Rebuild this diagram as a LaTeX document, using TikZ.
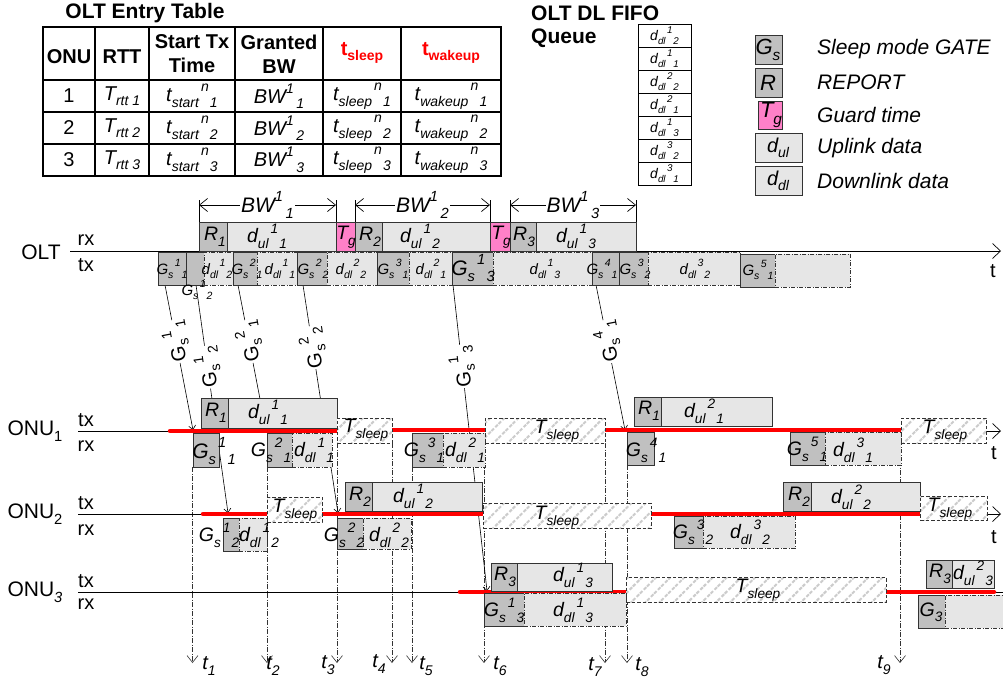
\documentclass[tikz,border=0pt]{standalone}
\usepackage{fontspec}
\setmainfont{Liberation Sans}
\usepackage{graphicx}
\usetikzlibrary{arrows.meta,patterns.meta}
\definecolor{tgpink}{RGB}{255,128,200}
\definecolor{gbfill}{RGB}{192,192,192}
\definecolor{dfill}{RGB}{230,230,230}
\newcommand\lo[1]{\raisebox{-0.28em}{\scalebox{0.7}{#1}}}
\newcommand\hi[1]{\raisebox{0.5em}{\scalebox{0.7}{#1}}}
\newcommand\gs[4]{#1\lo{#2}\hspace{0.1em}\hi{#3}\hspace{0.06em}\lo{#4}}
\newcommand\fT{\fontsize{21}{25}\selectfont}
\newcommand\fH{\fontsize{20}{24}\selectfont}
\newcommand\fR{\fontsize{19.5}{22}\selectfont}
\newcommand\fS{\fontsize{15}{18}\selectfont}
\newcommand\fQ{\fontsize{14}{16}\selectfont}
\newcommand\bx[6]{\pgfmathsetmacro\bxw{#5-#3}\pgfmathsetmacro\bxh{#6-#4}%
 \node[#1,anchor=north west,minimum width=\bxw pt,minimum height=\bxh pt,inner sep=0pt,outer sep=0pt] (#2) at (#3,#4) {};}
\begin{document}
\begin{tikzpicture}[x=1pt,y=-1pt,
 gbox/.style={draw=black!80,fill=gbfill,line width=0.7pt},
 ubox/.style={draw=black!80,fill=dfill,line width=0.7pt},
 dbox/.style={draw=black!80,fill=dfill,line width=0.7pt,dash pattern=on 4pt off 1.5pt on 1pt off 1.5pt},
 tgbox/.style={draw=black!80,fill=tgpink,line width=0.7pt},
 slbox/.style={draw=black!80,line width=0.7pt,dash pattern=on 3.5pt off 2pt,preaction={fill=white},pattern={Lines[angle=45,distance=10pt,line width=2pt]},pattern color=black!20},
 vline/.style={draw=black!80,line width=0.6pt,dash pattern=on 5pt off 1.5pt on 1pt off 1.5pt,-{Straight Barb[length=7pt,width=11pt,line width=0.6pt]}},
 gline/.style={draw=black,line width=0.6pt,-{Straight Barb[length=4pt,width=7pt]}},
 glab/.style={fill=white,inner sep=1pt,font=\fontsize{20}{22}\selectfont},
 axis/.style={draw=black,line width=0.8pt,-{Straight Barb[length=8pt,width=15pt,line width=0.7pt]}},
 bwar/.style={draw=black,line width=0.7pt,{Straight Barb[length=8pt,width=13pt,line width=0.7pt]}-{Straight Barb[length=8pt,width=13pt,line width=0.7pt]}},
 redl/.style={draw=red,line width=4.5pt,line cap=round},
 lab/.style={inner sep=0pt,font=\itshape\fR},
 slab/.style={inner sep=0pt,font=\itshape\fS},
 tlab/.style={inner sep=0pt,font=\itshape\fH}]
\useasboundingbox (0,0) rectangle (1003,682);

% ---------------- OLT entry table
\node[font=\bfseries\fT] (ttl) at (145,13) {OLT Entry Table};
\draw[line width=1.2pt] (43,27) rectangle (501,176);
\foreach \cx in {95,149,235,323,401} \draw[line width=1.2pt] (\cx,27) -- (\cx,176);
\foreach \ry in {80,112,144} \draw[line width=1.2pt] (43,\ry) -- (501,\ry);
\node[font=\bfseries\fH] (h1) at (69,57) {ONU};
\node[font=\bfseries\fH] (h2) at (122,57) {RTT};
\node[font=\bfseries\fH,align=center] (h3) at (192,54) {Start Tx\\Time};
\node[font=\bfseries\fH,align=center] (h4) at (279,54) {Granted\\BW};
\node[font=\bfseries\fH,text=red] (h5) at (362,53) {t\lo{sleep}};
\node[font=\bfseries\fH,text=red] (h6) at (451,53) {t\lo{wakeup}};
\foreach \i/\y in {1/96,2/128,3/160}{
 \node[font=\fH] (ca\i) at (69,\y) {\i};
 \node[font=\itshape\fH] (cb\i) at (122,\y) {T\lo{rtt \i}};
 \node[font=\itshape\fH] (cc\i) at (192,\y) {\gs{t}{start}{n}{\i}};
 \node[font=\itshape\fH] (cd\i) at (279,\y) {BW\hi{1}\hspace{0.12em}\lo{\i}};
 \node[font=\itshape\fH] (ce\i) at (362,\y) {\gs{t}{sleep}{n}{\i}};
 \node[font=\itshape\fH] (cf\i) at (451,\y) {\gs{t}{wakeup}{n}{\i}};
}

% ---------------- FIFO queue
\node[font=\bfseries\fT,anchor=west,inner sep=0pt] (fq1) at (531,13) {OLT DL FIFO};
\node[font=\bfseries\fT,anchor=west,inner sep=0pt] (fq2) at (531,38) {Queue};
\foreach \k/\a/\b in {0/1/2,1/1/1,2/2/2,3/2/1,4/1/3,5/3/2,6/3/1}{
 \node[draw,line width=0.7pt,minimum width=53pt,minimum height=23pt,inner sep=0pt,outer sep=0pt,anchor=north west] (q\k) at (638,{24+23*\k}) {};
 \node[font=\itshape\fQ,inner sep=0pt] (qt\k) at (q\k) {\gs{d}{dl}{\a}{\b}};
}

% ---------------- legend
\bx{gbox}{lg1}{755}{35}{782}{64}
\bx{gbox}{lg2}{755}{68}{782}{97}
\bx{tgbox}{lg3}{758}{101}{782}{129}
\bx{ubox}{lg4}{755}{133}{802}{162}
\bx{ubox}{lg5}{755}{166}{802}{195}
\node[inner sep=0pt,font=\itshape\fontsize{22}{24}\selectfont] (lgt1) at (768,50) {G\lo{s}};
\node[inner sep=0pt,font=\itshape\fontsize{22}{24}\selectfont] (lgt2) at (768,83) {R};
\node[inner sep=0pt,font=\itshape\fontsize{22}{24}\selectfont] (lgt3) at (771,115) {T\lo{g}};
\node[inner sep=0pt,font=\itshape\fH] (lgt4) at (778,148) {d\lo{ul}};
\node[inner sep=0pt,font=\itshape\fH] (lgt5) at (778,181) {d\lo{dl}};
\node[anchor=west,font=\itshape\fT,inner sep=0pt] (ld1) at (817,49) {Sleep mode GATE};
\node[anchor=west,font=\itshape\fT,inner sep=0pt] (ld2) at (817,82) {REPORT};
\node[anchor=west,font=\itshape\fT,inner sep=0pt] (ld3) at (817,115) {Guard time};
\node[anchor=west,font=\itshape\fT,inner sep=0pt] (ld4) at (817,148) {Uplink data};
\node[anchor=west,font=\itshape\fT,inner sep=0pt] (ld5) at (817,181) {Downlink data};

% ---------------- time marker lines t1..t9
\coordinate (m1) at (192.5,467); \coordinate (n1) at (192.5,663);
\coordinate (m2) at (267,467);   \coordinate (n2) at (267,663);
\coordinate (m3) at (337,443);   \coordinate (n3) at (337,663);
\coordinate (m4) at (392,443);   \coordinate (n4) at (392,663);
\coordinate (m5) at (412,467);   \coordinate (n5) at (412,663);
\coordinate (m6) at (484,443);   \coordinate (n6) at (484,663);
\coordinate (m7) at (605,443);   \coordinate (n7) at (605,663);
\coordinate (m8) at (627,465);   \coordinate (n8) at (627,663);
\coordinate (m9) at (900,443);   \coordinate (n9) at (900,663);
\foreach \j in {1,...,9} \draw[vline] (m\j) -- (n\j);
\node[tlab] (tt1) at (209,666) {t\lo{1}};
\node[tlab] (tt2) at (273,666) {t\lo{2}};
\node[tlab] (tt3) at (328,665) {t\lo{3}};
\node[tlab] (tt4) at (379,664) {t\lo{4}};
\node[tlab] (tt5) at (426,666) {t\lo{5}};
\node[tlab] (tt6) at (500,666) {t\lo{6}};
\node[tlab] (tt7) at (595,667) {t\lo{7}};
\node[tlab] (tt8) at (642,667) {t\lo{8}};
\node[tlab] (tt9) at (884,665) {t\lo{9}};

% ---------------- axes
\node[font=\fT] (olt) at (41,252) {OLT};
\node[font=\fH] (oltrx) at (86,240) {rx};
\node[font=\fH] (olttx) at (86,265) {tx};
\coordinate (oa) at (70,251); \coordinate (ob) at (1001,251);
\draw[axis] (oa) -- (ob);
\node[font=\fH] (oltt) at (993,271) {t};

\node[font=\fT] (onu1) at (35,431) {ONU\lo{1}};
\node[font=\fH] (o1tx) at (86,420) {tx};
\node[font=\fH] (o1rx) at (86,446) {rx};
\coordinate (a1a) at (78,431); \coordinate (a1b) at (1001,431);
\draw[axis] (a1a) -- (a1b);
\node[font=\fH] (o1t) at (994,453) {t};

\node[font=\fT] (onu2) at (35,514) {ONU\lo{2}};
\node[font=\fH] (o2tx) at (86,503) {tx};
\node[font=\fH] (o2rx) at (86,530) {rx};
\coordinate (a2a) at (78,514); \coordinate (a2b) at (1001,514);
\draw[axis] (a2a) -- (a2b);
\node[font=\fH] (o2t) at (994,537) {t};

\node[font=\fT] (onu3) at (35,592) {ONU\lo{\itshape 3}};
\node[font=\fH] (o3tx) at (86,581) {tx};
\node[font=\fH] (o3rx) at (86,604) {rx};
\coordinate (a3a) at (78,592); \coordinate (a3b) at (1003,592);
\draw[line width=0.8pt] (a3a) -- (a3b);

% ---------------- BW brackets
\foreach \bxa/\bxb/\k in {199/336/1,355/490/2,510/636/3}{
 \draw[line width=0.7pt] (\bxa,200) -- (\bxa,222);
 \draw[line width=0.7pt] (\bxb,200) -- (\bxb,222);
}
\coordinate (bwa1) at (199,205); \coordinate (bwb1) at (336,205);
\coordinate (bwa2) at (355,205); \coordinate (bwb2) at (490,205);
\coordinate (bwa3) at (510,205); \coordinate (bwb3) at (636,205);
\draw[bwar] (bwa1) -- node[fill=white,inner sep=1pt,font=\itshape\fT] (bw1) {BW\hi{1}\hspace{0.12em}\lo{1}} (bwb1);
\draw[bwar] (bwa2) -- node[fill=white,inner sep=1pt,font=\itshape\fT] (bw2) {BW\hi{1}\hspace{0.12em}\lo{2}} (bwb2);
\draw[bwar] (bwa3) -- node[fill=white,inner sep=1pt,font=\itshape\fT] (bw3) {BW\hi{1}\hspace{0.12em}\lo{3}} (bwb3);

% ---------------- OLT rx
\bx{gbox}{r1}{199}{222}{227}{251}
\bx{ubox}{u11}{227}{222}{336}{251}
\bx{tgbox}{tg1}{336}{222}{355}{251}
\bx{gbox}{r2}{355}{222}{382}{251}
\bx{ubox}{u12}{382}{222}{490}{251}
\bx{tgbox}{tg2}{490}{222}{510}{251}
\bx{gbox}{r3}{510}{222}{536}{251}
\bx{ubox}{u13}{536}{222}{636}{251}
\node[lab] (r1t) at (215,237) {R\lo{1}};
\node[lab] (u11t) at (267,236) {\gs{d}{ul}{1}{1}};
\node[lab] (tg1t) at (346,237) {T\lo{g}};
\node[lab] (r2t) at (370,237) {R\lo{2}};
\node[lab] (u12t) at (420,236) {\gs{d}{ul}{1}{2}};
\node[lab] (tg2t) at (501,237) {T\lo{g}};
\node[lab] (r3t) at (524,237) {R\lo{3}};
\node[lab] (u13t) at (576,236) {\gs{d}{ul}{1}{3}};

% ---------------- GATE propagation lines
\coordinate (p1) at (165,285); \coordinate (q1) at (193,430);
\coordinate (p2) at (196,285); \coordinate (q2) at (228,513);
\coordinate (p3) at (238,285); \coordinate (q3) at (266,430);
\coordinate (p4) at (303,285); \coordinate (q4) at (338,513);
\coordinate (p5) at (453,285); \coordinate (q5) at (487,591);
\coordinate (p6) at (596,285); \coordinate (q6) at (625,430);
\draw[gline] (p1) -- node[glab,pos=0.39,rotate=101] (gl1) {\gs{G}{s}{1}{1}} (q1);
\draw[gline] (p2) -- node[glab,pos=0.36,rotate=98] (gl2) {\gs{G}{s}{1}{2}} (q2);
\draw[gline] (p3) -- node[glab,pos=0.39,rotate=100.5] (gl3) {\gs{G}{s}{2}{1}} (q3);
\draw[gline] (p4) -- node[glab,pos=0.275,rotate=98.7] (gl4) {\gs{G}{s}{2}{2}} (q4);
\draw[gline] (p5) -- node[glab,pos=0.267,rotate=96.3] (gl5) {\gs{G}{s}{1}{3}} (q5);
\draw[gline] (p6) -- node[glab,pos=0.39,rotate=101] (gl6) {\gs{G}{s}{4}{1}} (q6);

% ---------------- OLT tx
\bx{gbox}{o11}{158}{252}{186}{285}
\bx{gbox}{o12}{186}{252}{204}{285}
\bx{dbox}{od12}{204}{252}{233}{285}
\bx{gbox}{o21}{233}{252}{257}{285}
\bx{dbox}{od11}{257}{252}{297}{285}
\bx{gbox}{o22}{297}{252}{327}{285}
\bx{dbox}{od22}{327}{252}{377}{285}
\bx{gbox}{o31}{377}{252}{409}{285}
\bx{dbox}{od21}{409}{252}{452}{285}
\bx{gbox}{o13}{452}{252}{493}{285}
\bx{dbox}{od13}{493}{252}{592}{285}
\bx{gbox}{o41}{592}{252}{619}{285}
\bx{gbox}{o32}{619}{252}{648}{285}
\bx{dbox}{od32}{648}{252}{740}{285}
\bx{gbox}{o51}{740}{254}{775}{287}
\bx{dbox}{oend}{775}{254}{850}{287}
\node[slab] (o11t) at (172,269) {\gs{G}{s}{1}{1}};
\node[slab] (o12t) at (197,290) {\gs{G}{s}{1}{2}};
\node[slab] (od12t) at (217,269) {\gs{d}{dl}{1}{2}};
\node[slab] (o21t) at (247,269) {\gs{G}{s}{2}{1}};
\node[slab] (od11t) at (280,269) {\gs{d}{dl}{1}{1}};
\node[slab] (o22t) at (313,269) {\gs{G}{s}{2}{2}};
\node[slab] (od22t) at (351,269) {\gs{d}{dl}{2}{2}};
\node[slab] (o31t) at (393,269) {\gs{G}{s}{3}{1}};
\node[slab] (od21t) at (431,269) {\gs{d}{dl}{2}{1}};
\node[inner sep=0pt,font=\itshape\fT] (o13t) at (473,268) {\gs{G}{s}{1}{3}};
\node[slab] (od13t) at (545,269) {\gs{d}{dl}{1}{3}};
\node[slab] (o41t) at (602,269) {\gs{G}{s}{4}{1}};
\node[slab] (o32t) at (635,269) {\gs{G}{s}{3}{2}};
\node[slab] (od32t) at (695,269) {\gs{d}{dl}{3}{2}};
\node[slab] (o51t) at (758,270) {\gs{G}{s}{5}{1}};

% ---------------- red active periods
\coordinate (ra1) at (170,431); \coordinate (rb1) at (337,431);
\coordinate (ra2) at (392,430); \coordinate (rb2) at (485,430);
\coordinate (ra3) at (605,430); \coordinate (rb3) at (901,430);
\coordinate (ra4) at (203,514); \coordinate (rb4) at (267,514);
\coordinate (ra5) at (322,514); \coordinate (rb5) at (482,514);
\coordinate (ra6) at (651,514); \coordinate (rb6) at (920,514);
\coordinate (ra7) at (460,592); \coordinate (rb7) at (626,592);
\coordinate (ra8) at (886,592); \coordinate (rb8) at (994,592);
\foreach \j in {1,...,8} \draw[redl] (ra\j) -- (rb\j);

% ---------------- ONU1
\bx{gbox}{n1r1}{201}{398}{228}{428}
\bx{ubox}{n1u11}{228}{398}{337}{428}
\bx{slbox}{n1s1}{337}{418}{392}{443}
\bx{slbox}{n1s2}{485}{418}{605}{443}
\bx{gbox}{n1r2}{634}{397}{661}{426}
\bx{ubox}{n1u21}{661}{397}{772}{426}
\bx{slbox}{n1s3}{901}{418}{986}{443}
\bx{gbox}{n1g11}{193}{433}{219}{467}
\bx{gbox}{n1g21}{267}{433}{292}{467}
\bx{dbox}{n1d11}{292}{433}{332}{467}
\bx{gbox}{n1g31}{412}{433}{443}{467}
\bx{dbox}{n1d21}{443}{433}{485}{467}
\bx{gbox}{n1g41}{627}{432}{654}{465}
\bx{gbox}{n1g51}{790}{432}{825}{465}
\bx{dbox}{n1d31}{825}{432}{901}{465}
\node[lab] (n1r1t) at (216,413) {R\lo{1}};
\node[lab] (n1u11t) at (268,412) {\gs{d}{ul}{1}{1}};
\node[lab] (n1s1t) at (366,430) {T\lo{sleep}};
\node[lab] (n1s2t) at (557,431) {T\lo{sleep}};
\node[lab] (n1r2t) at (649,411) {R\lo{1}};
\node[lab] (n1u21t) at (704,411) {\gs{d}{ul}{2}{1}};
\node[lab] (n1s3t) at (945,431) {T\lo{sleep}};
\node[inner sep=0pt,font=\itshape\fontsize{21}{23}\selectfont] (n1g11t) at (214,451) {\gs{G}{s}{1}{1}};
\node[lab] (n1g21t) at (271,450) {\gs{G}{s}{2}{1}};
\node[lab] (n1d11t) at (314,450) {\gs{d}{dl}{1}{1}};
\node[lab] (n1g31t) at (424,450) {\gs{G}{s}{3}{1}};
\node[lab] (n1d21t) at (465,450) {\gs{d}{dl}{2}{1}};
\node[lab] (n1g41t) at (646,450) {\gs{G}{s}{4}{1}};
\node[lab] (n1g51t) at (807,449) {\gs{G}{s}{5}{1}};
\node[lab] (n1d31t) at (853,450) {\gs{d}{dl}{3}{1}};

% ---------------- ONU2
\bx{gbox}{n2r1}{345}{482}{372}{511}
\bx{ubox}{n2u12}{372}{482}{482}{511}
\bx{slbox}{n2s1}{267}{497}{322}{522}
\bx{slbox}{n2s2}{483}{503}{651}{528}
\bx{gbox}{n2r2}{783}{482}{811}{511}
\bx{ubox}{n2u22}{811}{482}{920}{511}
\bx{slbox}{n2s3}{920}{496}{987}{520}
\bx{gbox}{n2g12}{223}{518}{239}{551}
\bx{dbox}{n2d12}{239}{518}{267}{551}
\bx{gbox}{n2g22}{337}{518}{363}{549}
\bx{dbox}{n2d22}{363}{518}{411}{549}
\bx{gbox}{n2g32}{674}{516}{703}{548}
\bx{dbox}{n2d32}{703}{516}{795}{548}
\node[lab] (n2r1t) at (360,497) {R\lo{2}};
\node[lab] (n2u12t) at (413,496) {\gs{d}{ul}{1}{2}};
\node[lab] (n2s1t) at (295,510) {T\lo{sleep}};
\node[lab] (n2s2t) at (557,517) {T\lo{sleep}};
\node[lab] (n2r2t) at (799,497) {R\lo{2}};
\node[lab] (n2u22t) at (851,497) {\gs{d}{ul}{2}{2}};
\node[lab] (n2s3t) at (950,509) {T\lo{sleep}};
\node[lab] (n2g12t) at (219,535) {\gs{G}{s}{1}{2}};
\node[lab] (n2d12t) at (259,535) {\gs{d}{dl}{1}{2}};
\node[lab] (n2g22t) at (344,535) {\gs{G}{s}{2}{2}};
\node[lab] (n2d22t) at (389,535) {\gs{d}{dl}{2}{2}};
\node[lab] (n2g32t) at (693,532) {\gs{G}{s}{3}{2}};
\node[lab] (n2d32t) at (750,532) {\gs{d}{dl}{3}{2}};

% ---------------- ONU3
\bx{gbox}{n3r1}{491}{563}{517}{591}
\bx{ubox}{n3u13}{517}{563}{612}{591}
\bx{slbox}{n3s1}{626}{577}{886}{602}
\bx{gbox}{n3r2}{926}{560}{952}{588}
\bx{ubox}{n3u23}{952}{560}{994}{588}
\bx{gbox}{n3g13}{484}{593}{524}{626}
\bx{dbox}{n3d13}{524}{593}{626}{626}
\bx{gbox}{n3g3}{918}{595}{945}{628}
\bx{dbox}{n3end}{945}{595}{1012}{628}
\node[lab] (n3r1t) at (505,577) {R\lo{3}};
\node[lab] (n3u13t) at (573,575) {\gs{d}{ul}{1}{3}};
\node[lab] (n3s1t) at (758,590) {T\lo{sleep}};
\node[lab] (n3r2t) at (940,574) {R\lo{3}};
\node[lab] (n3u23t) at (973,573) {\gs{d}{ul}{2}{3}};
\node[lab] (n3g13t) at (504,610) {\gs{G}{s}{1}{3}};
\node[lab] (n3d13t) at (573,610) {\gs{d}{dl}{1}{3}};
\node[lab] (n3g3t) at (931,612) {G\lo{3}};
\end{tikzpicture}
\end{document}
